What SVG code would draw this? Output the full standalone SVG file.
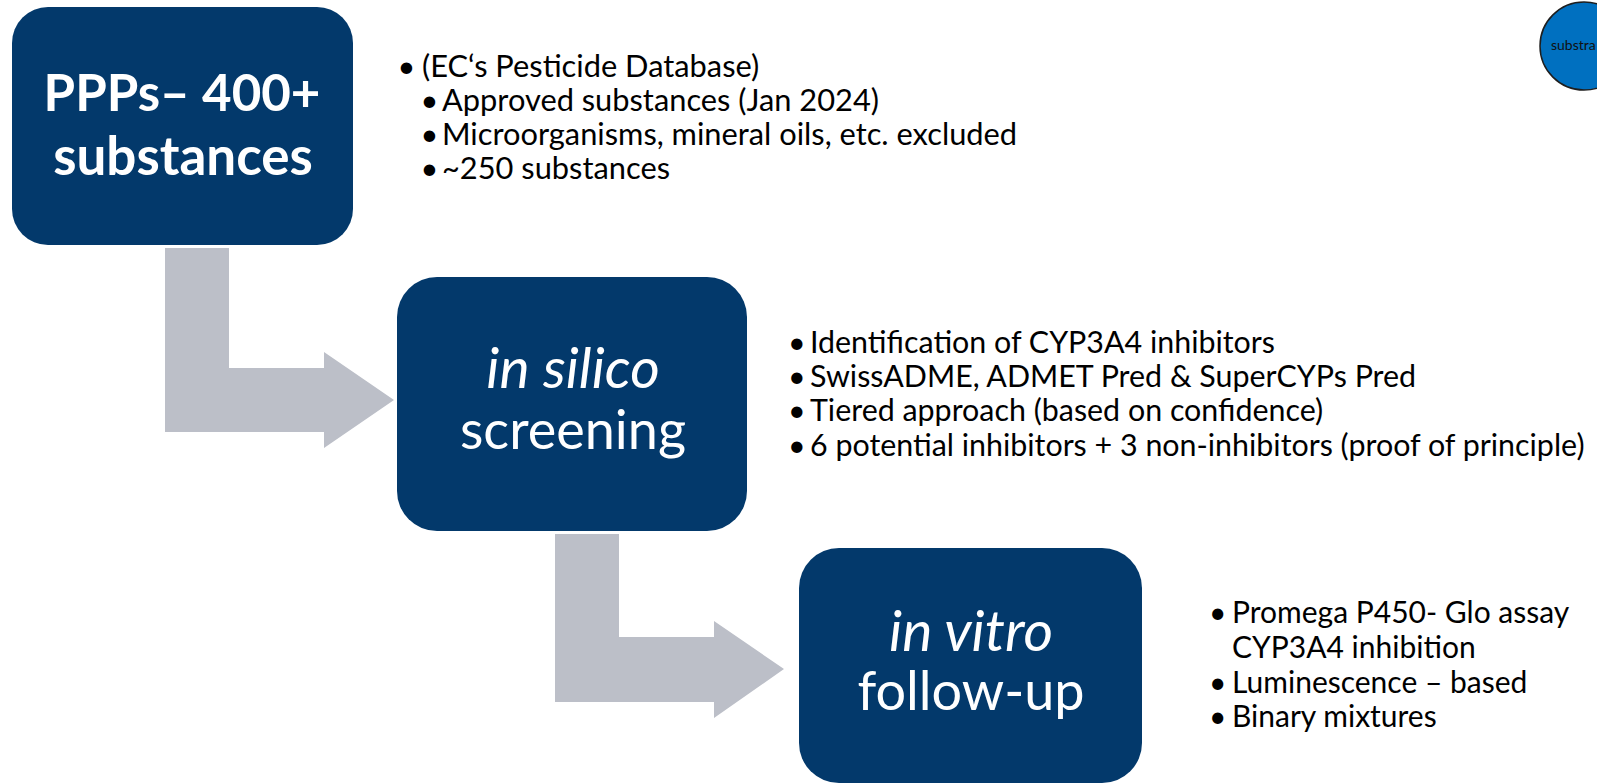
<svg xmlns="http://www.w3.org/2000/svg" width="1597" height="784" viewBox="0 0 1597 784">
<style>
.box{fill:#03396B;}
.arrow{fill:#BCBFC8;}
.t{font-family:Lato,"Open Sans",sans-serif;font-size:30.8px;fill:#000;}
.t2{font-size:30.4px;}
.t3{font-size:30px;}
.bt{font-family:Lato,"Open Sans",sans-serif;fill:#fff;text-anchor:middle;}
.b1{font-size:51px;font-weight:bold;}
.b2{font-size:54px;}
.it{font-style:italic;font-size:57px;}
</style>
<rect width="1597" height="784" fill="#fff"/>
<g id="connectors">
<path class="arrow" d="M165,248 H229 V368 H324 V352 L394,400 L324,448 V432 H165 Z"/>
<path class="arrow" d="M555,534 H619 V637 H714 V621 L784,669 L714,718 V702 H555 Z"/>
</g>
<g id="node-ppps">
<rect class="box" x="12" y="7" width="341" height="238" rx="36"/>
<text class="bt b1" x="182" y="111">PPPs– 400+</text>
<text class="bt b1" x="183" y="175" style="font-size:53px">substances</text>
</g>
<g id="node-insilico">
<rect class="box" x="397" y="277" width="350" height="254" rx="40"/>
<text class="bt it" x="573" y="388">in silico</text>
<text class="bt b2" x="573" y="449">screening</text>
</g>
<g id="node-invitro">
<rect class="box" x="799" y="548" width="343" height="235" rx="40"/>
<text class="bt it" x="971" y="651">in vitro</text>
<text class="bt b2" x="971" y="710">follow-up</text>
</g>
<g id="node-substrate">
<circle cx="1584" cy="46" r="44" fill="#0070C0" stroke="#1E1E1E" stroke-width="1.5"/>
<text x="1551" y="50" style="font-family:Lato,'Open Sans',sans-serif;font-size:14px;fill:#111;">substra</text>
</g>
<g id="text-ppps">
<text class="t" x="397.5" y="77">•<tspan x="422">(EC‘s Pesticide Database)</tspan></text>
<text class="t" x="420.5" y="111">•<tspan x="442">Approved substances (Jan 2024)</tspan></text>
<text class="t" x="420.5" y="145">•<tspan x="442">Microorganisms, mineral oils, etc. excluded</tspan></text>
<text class="t" x="420.5" y="179">•<tspan x="442">~250 substances</tspan></text>
</g>
<g id="text-insilico">
<text class="t t2" x="788" y="353">•<tspan x="810">Identification of CYP3A4 inhibitors</tspan></text>
<text class="t t2" x="788" y="387">•<tspan x="810">SwissADME, ADMET Pred &amp; SuperCYPs Pred</tspan></text>
<text class="t t2" x="788" y="421">•<tspan x="810">Tiered approach (based on confidence)</tspan></text>
<text class="t t2" x="788" y="456">•<tspan x="810">6 potential inhibitors + 3 non-inhibitors (proof of principle)</tspan></text>
</g>
<g id="text-invitro">
<text class="t t3" x="1209" y="623">•<tspan x="1232">Promega P450- Glo assay</tspan><tspan x="1232" y="658">CYP3A4 inhibition</tspan></text>
<text class="t t3" x="1209" y="693">•<tspan x="1232">Luminescence – based</tspan></text>
<text class="t t3" x="1209" y="727">•<tspan x="1232">Binary mixtures</tspan></text>
</g>
</svg>
